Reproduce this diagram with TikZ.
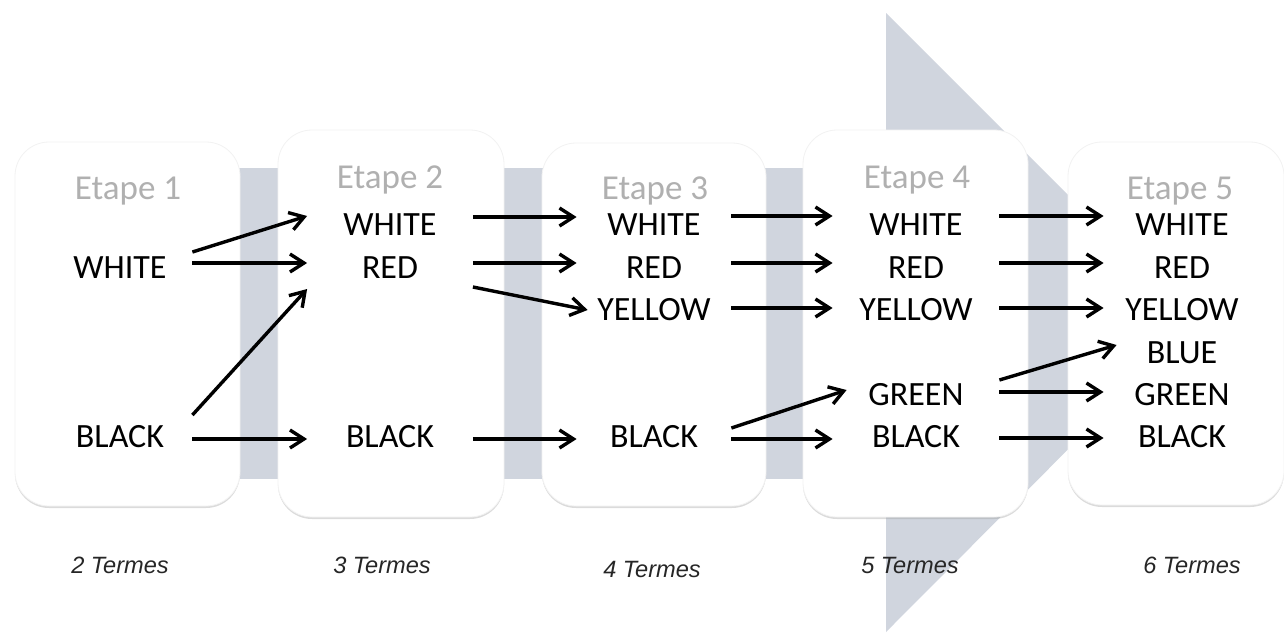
\documentclass[tikz,border=0pt]{standalone}
\usepackage{fontspec}
\usepackage{xcolor}
\setmainfont{Carlito}
\newfontfamily\termfont{Liberation Sans}
\usetikzlibrary{shadows,arrows.meta}

\definecolor{bandgrey}{HTML}{D0D5DE}
\definecolor{titlegrey}{HTML}{B0B0B0}

\begin{document}
\begin{tikzpicture}[x=0.5pt, y=-0.5pt,
  stage/.style={fill=white, draw=black!5, rounded corners=17pt,
    drop shadow={shadow xshift=0pt, shadow yshift=-1pt, opacity=0.35, fill=black!40}},
  stagetitle/.style={text=titlegrey, font=\fontsize{17.5}{18}\selectfont, inner sep=0pt, text height=11pt, text depth=0pt},
  colorword/.style={font=\fontsize{17}{18}\selectfont, inner sep=0pt, text height=10.8pt, text depth=0pt, minimum width=#1},
  termcount/.style={font=\termfont\itshape\fontsize{11.8}{12}\selectfont, text=black!85, inner sep=0pt},
  flow/.style={-{Straight Barb[length=7pt,width=9pt]}, line width=1.7pt}]
  \useasboundingbox (0,0) rectangle (1284,633);

  % Draw the big grey arrow behind the stages
  \fill[bandgrey] (30,168) rectangle (886,479);
  \fill[bandgrey] (886,13) -- (1195,322) -- (886,632) -- cycle;

  % Stage boxes
  \foreach \xa/\ya/\xb/\yb in {15/142/240/506, 278/130/504/517, 542/143/766/506, 803/130/1028/517, 1068/142/1284/505}
    \path[stage] (\xa,\ya) rectangle (\xb,\yb);

  \node[stagetitle] (t1) at (128,188) {Etape 1};
  \node[stagetitle] (t2) at (390,177) {Etape 2};
  \node[stagetitle] (t3) at (655,188) {Etape 3};
  \node[stagetitle] (t4) at (917,177) {Etape 4};
  \node[stagetitle] (t5) at (1180,188) {Etape 5};

  % Etape 1
  \node[colorword=72pt] (w1) at (120,268) {WHITE};
  \node[colorword=72pt] (k1) at (120,437) {BLACK};
  % Etape 2
  \node[colorword=82.5pt] (w2) at (390,225) {WHITE};
  \node[colorword=82.5pt] (r2) at (390,268) {RED};
  \node[colorword=82.5pt] (k2) at (390,437) {BLACK};
  % Etape 3
  \node[colorword=77pt] (w3) at (654,225) {WHITE};
  \node[colorword=77pt] (r3) at (654,268) {RED};
  \node[colorword=77pt] (y3) at (654,310) {YELLOW};
  \node[colorword=77pt] (k3) at (654,437) {BLACK};
  % Etape 4
  \node[colorword=83pt] (w4) at (916,225) {WHITE};
  \node[colorword=83pt] (r4) at (916,268) {RED};
  \node[colorword=83pt] (y4) at (916,310) {YELLOW};
  \node[colorword=83pt] (g4) at (916,395) {GREEN};
  \node[colorword=83pt] (k4) at (916,437) {BLACK};
  % Etape 5
  \node[colorword=78pt] (w5) at (1182,225) {WHITE};
  \node[colorword=78pt] (r5) at (1182,268) {RED};
  \node[colorword=78pt] (y5) at (1182,310) {YELLOW};
  \node[colorword=78pt] (b5) at (1182,353) {BLUE};
  \node[colorword=78pt] (g5) at (1182,395) {GREEN};
  \node[colorword=78pt] (k5) at (1182,437) {BLACK};

  % 1 -> 2
  \draw[flow] ([yshift=8pt]w1.east) -- ([yshift=4.5pt]w2.west);
  \draw[flow] ([yshift=2.5pt]w1.east) -- ([yshift=2.5pt]r2.west);
  \draw[flow] ([yshift=11pt]k1.east) -- ([yshift=-10.5pt]r2.west);
  \draw[flow] ([yshift=-1pt]k1.east) -- ([yshift=-1pt]k2.west);
  % 2 -> 3
  \draw[flow] ([yshift=4pt]w2.east) -- ([yshift=4pt]w3.west);
  \draw[flow] ([yshift=2.5pt]r2.east) -- ([yshift=2.5pt]r3.west);
  \draw[flow] ([yshift=-9.5pt]r2.east) -- ([xshift=5.5pt]y3.west);
  \draw[flow] ([yshift=-1pt]k2.east) -- ([yshift=-1pt]k3.west);
  % 3 -> 4
  \draw[flow] ([yshift=4.5pt]w3.east) -- ([yshift=4.5pt]w4.west);
  \draw[flow] ([yshift=2.5pt]r3.east) -- ([yshift=2.5pt]r4.west);
  \draw[flow] ([yshift=1pt]y3.east) -- ([yshift=1pt]y4.west);
  \draw[flow] ([yshift=4.5pt]k3.east) -- ([xshift=7pt,yshift=2.5pt]g4.west);
  \draw[flow] ([yshift=-1pt]k3.east) -- ([yshift=-1pt]k4.west);
  % 4 -> 5
  \draw[flow] ([yshift=4.5pt]w4.east) -- ([yshift=4.5pt]w5.west);
  \draw[flow] ([yshift=2.5pt]r4.east) -- ([yshift=2.5pt]r5.west);
  \draw[flow] ([yshift=1pt]y4.east) -- ([yshift=1pt]y5.west);
  \draw[flow] ([yshift=7.5pt]g4.east) -- ([xshift=6.5pt,yshift=4pt]b5.west);
  \draw[flow] ([yshift=1.5pt]g4.east) -- ([yshift=1.5pt]g5.west);
  \draw[flow] ([yshift=-0.5pt]k4.east) -- ([yshift=-0.5pt]k5.west);

  \node[termcount] (n1) at (120,565) {2 Termes};
  \node[termcount] (n2) at (382,565) {3 Termes};
  \node[termcount] (n3) at (652,569) {4 Termes};
  \node[termcount] (n4) at (910,565) {5 Termes};
  \node[termcount] (n5) at (1192,565) {6 Termes};
\end{tikzpicture}
\end{document}
